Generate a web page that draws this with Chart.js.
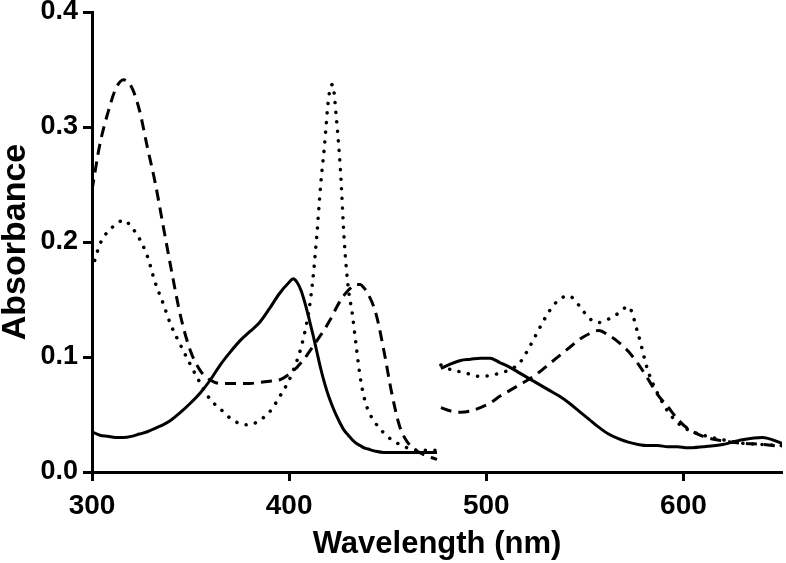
<!DOCTYPE html>
<html>
<head>
<meta charset="utf-8">
<script src="https://cdn.jsdelivr.net/npm/chart.js@4/dist/chart.umd.min.js"></script>
<style>
    html, body { margin: 0; padding: 0; background: #fff; }
    #wrap { width: 786px; height: 563px; }
</style>
</head>
<body>
<div id="wrap"><canvas id="specChart" width="786" height="563"></canvas></div>
<script>
// --- Data ---
// 476 nm is the break between the two measured ranges
const wavelengths = [
    300, 304, 308, 312, 316, 320, 324, 328, 332, 336, 340,
    345, 350, 355, 360, 365, 370, 375, 380, 385, 390, 395,
    400, 402, 404, 406, 408, 410, 412, 414, 416, 418, 420, 422, 424, 426, 428, 430, 432, 434, 436, 438, 440,
    444, 448, 452, 456, 460, 465, 470, 475,
    476,
    477, 482, 487, 492, 497, 502, 507, 512, 517, 522, 527, 532, 537, 542, 547, 552, 557, 562, 567, 572, 577, 582, 587, 592, 597, 602,
    610, 620, 630, 640, 650
];

const solidAbs = [
    0.035, 0.032, 0.031, 0.030, 0.030, 0.031, 0.033, 0.035, 0.038, 0.041, 0.045,
    0.052, 0.060, 0.069, 0.080, 0.093, 0.104, 0.114, 0.122, 0.130, 0.142, 0.155,
    0.165, 0.168, 0.165, 0.158, 0.147, 0.134, 0.120, 0.105, 0.090, 0.077, 0.066, 0.057, 0.049, 0.042, 0.036, 0.032, 0.028, 0.025, 0.023, 0.021, 0.020,
    0.018, 0.017, 0.017, 0.017, 0.017, 0.017, 0.017, 0.017,
    null,
    0.090, 0.094, 0.097, 0.098, 0.099, 0.099, 0.095, 0.091, 0.086, 0.081, 0.076, 0.071, 0.066, 0.060, 0.053, 0.046, 0.039, 0.033, 0.029, 0.026, 0.024, 0.023, 0.023, 0.022, 0.022, 0.021,
    0.022, 0.024, 0.028, 0.030, 0.025
];

const dashedAbs = [
    0.245, 0.285, 0.312, 0.333, 0.341, 0.335, 0.315, 0.283, 0.252, 0.215, 0.178,
    0.135, 0.105, 0.088, 0.080, 0.077, 0.077, 0.077, 0.077, 0.078, 0.079, 0.080,
    0.085, 0.088, 0.091, 0.095, 0.099, 0.104, 0.109, 0.114, 0.119, 0.124, 0.130, 0.136, 0.143, 0.149, 0.154, 0.158, 0.161, 0.163, 0.163, 0.160, 0.155,
    0.138, 0.106, 0.069, 0.040, 0.026, 0.018, 0.014, 0.011,
    null,
    0.056, 0.053, 0.052, 0.053, 0.056, 0.060, 0.066, 0.071, 0.076, 0.081, 0.087, 0.094, 0.101, 0.108, 0.115, 0.120, 0.123, 0.119, 0.113, 0.105, 0.094, 0.081, 0.067, 0.057, 0.046, 0.038,
    0.031, 0.027, 0.025, 0.024, 0.022
];

const dottedAbs = [
    0.176, 0.198, 0.209, 0.215, 0.219, 0.213, 0.203, 0.188, 0.165, 0.147, 0.128,
    0.110, 0.093, 0.077, 0.063, 0.055, 0.047, 0.042, 0.041, 0.045, 0.052, 0.065,
    0.080, 0.088, 0.097, 0.108, 0.122, 0.140, 0.167, 0.205, 0.250, 0.285, 0.325, 0.337, 0.307, 0.263, 0.200, 0.160, 0.138, 0.110, 0.083, 0.065, 0.054,
    0.042, 0.034, 0.028, 0.024, 0.021, 0.019, 0.019, 0.019,
    null,
    0.093, 0.089, 0.087, 0.085, 0.083, 0.084, 0.086, 0.089, 0.095, 0.109, 0.125, 0.140, 0.150, 0.153, 0.145, 0.134, 0.130, 0.133, 0.138, 0.144, 0.120, 0.088, 0.068, 0.053, 0.043, 0.037,
    0.032, 0.028, 0.025, 0.024, 0.023
];

const xTickValues = [300, 400, 500, 600];
const yTickValues = [0, 0.1, 0.2, 0.3, 0.4];

// --- Helpers ---
const FONT = "'Liberation Sans', Arial, sans-serif";

function toPoints(values) {
    return wavelengths.map((w, i) => ({ x: w, y: values[i] }));
}

function lineDataset(label, values, extra) {
    return Object.assign({
        label,
        data: toPoints(values),
        borderColor: '#000',
        backgroundColor: '#000',
        borderWidth: 3,
        pointRadius: 0,
        fill: false,
        spanGaps: false,
        cubicInterpolationMode: 'monotone'
    }, extra);
}

// --- Chart ---
const ctx = document.getElementById('specChart').getContext('2d');
new Chart(ctx, {
    type: 'line',
    data: {
        datasets: [
            lineDataset('Dotted', dottedAbs, { borderWidth: 3.5, borderDash: [0.1, 9.5], borderCapStyle: 'round' }),
            lineDataset('Dashed', dashedAbs, { borderDash: [11, 7] }),
            lineDataset('Solid', solidAbs, {})
        ]
    },
    options: {
        responsive: false,
        animation: false,
        layout: { padding: { top: 12, right: 4, bottom: 0, left: 0 } },
        plugins: {
            legend: { display: false },
            tooltip: { enabled: false }
        },
        scales: {
            x: {
                type: 'linear',
                min: 300,
                max: 650,
                afterBuildTicks: scale => { scale.ticks = xTickValues.map(v => ({ value: v })); },
                afterFit: scale => {
                    scale.height = 91;
                    scale.paddingLeft = 0;
                    scale.paddingRight = 0;
                },
                grid: {
                    drawOnChartArea: false,
                    drawTicks: true,
                    tickLength: 9,
                    tickWidth: 3,
                    tickColor: '#000'
                },
                border: { display: true, color: '#000', width: 3 },
                ticks: {
                    color: '#000',
                    padding: 8,
                    maxRotation: 0,
                    font: { family: FONT, size: 28, weight: 'bold', lineHeight: 1.2 }
                },
                title: {
                    display: true,
                    text: 'Wavelength (nm)',
                    color: '#000',
                    padding: { top: 0, bottom: 0 },
                    font: { family: FONT, size: 31, weight: 'bold', lineHeight: 1.2 }
                }
            },
            y: {
                min: 0,
                max: 0.4,
                afterBuildTicks: scale => { scale.ticks = yTickValues.map(v => ({ value: v })); },
                afterFit: scale => {
                    scale.width = 92;
                    scale.paddingTop = 0;
                    scale.paddingBottom = 0;
                },
                grid: {
                    drawOnChartArea: false,
                    drawTicks: true,
                    tickLength: 9,
                    tickWidth: 3,
                    tickColor: '#000'
                },
                border: { display: true, color: '#000', width: 3 },
                ticks: {
                    color: '#000',
                    padding: 5,
                    callback: v => v.toFixed(1),
                    font: { family: FONT, size: 27, weight: 'bold', lineHeight: 1.2 }
                },
                title: {
                    display: true,
                    text: 'Absorbance',
                    color: '#000',
                    padding: { top: 0, bottom: 0 },
                    font: { family: FONT, size: 34, weight: 'bold', lineHeight: 0.9 }
                }
            }
        }
    }
});
</script>
</body>
</html>
